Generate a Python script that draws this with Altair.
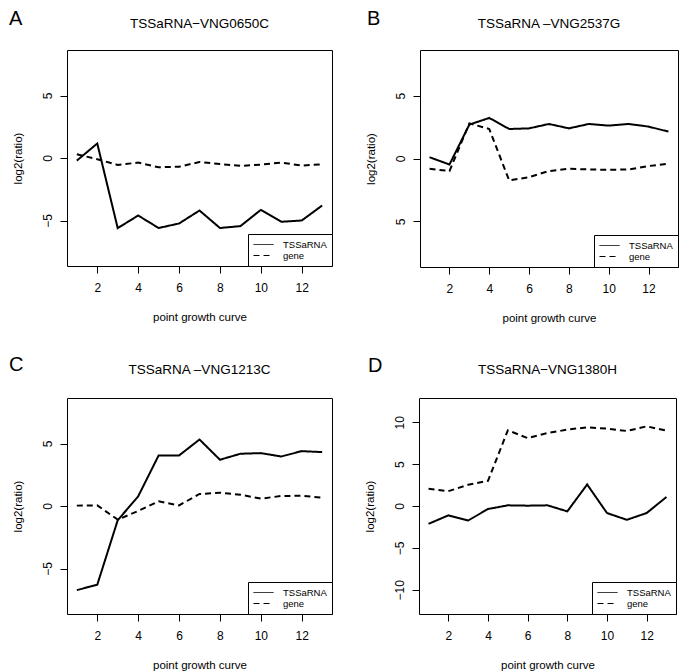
import altair as alt
import pandas as pd

FONT = "Liberation Sans"

points = [1, 2, 3, 4, 5, 6, 7, 8, 9, 10, 11, 12, 13]
series_names = ["TSSaRNA", "gene"]
x_ticks = [2, 4, 6, 8, 10, 12]

a_tss = [-0.21, 1.16, -5.61, -4.6, -5.6, -5.24, -4.2, -5.6, -5.45, -4.15, -5.1, -5.0, -3.8]
a_gene = [0.3, -0.1, -0.55, -0.37, -0.74, -0.7, -0.32, -0.48, -0.63, -0.53, -0.37, -0.6, -0.5]
b_tss = [0.1, -0.48, 2.7, 3.23, 2.35, 2.4, 2.75, 2.4, 2.75, 2.62, 2.75, 2.54, 2.14]
b_gene = [-0.82, -1.0, 2.8, 2.35, -1.75, -1.48, -1.0, -0.82, -0.87, -0.9, -0.87, -0.6, -0.42]
c_tss = [-6.73, -6.3, -1.14, 0.77, 4.04, 4.04, 5.32, 3.7, 4.18, 4.23, 3.96, 4.39, 4.31]
c_gene = [0.03, 0.05, -1.09, -0.4, 0.37, 0.05, 0.96, 1.06, 0.9, 0.59, 0.8, 0.82, 0.66]
d_tss = [-2.13, -1.12, -1.73, -0.36, 0.08, 0.04, 0.08, -0.64, 2.57, -0.84, -1.65, -0.84, 1.08]
d_gene = [2.05, 1.77, 2.53, 3.01, 9.04, 8.11, 8.71, 9.12, 9.4, 9.24, 8.96, 9.52, 9.0]

y_ticks_small = [-5, 0, 5]
y_ticks_large = [-10, -5, 0, 5, 10]


def panel(letter, title, tss, gene, ydom, yticks, w, h, title_offset,
          letter_dx, letter_dy, plain_negative=False):
    df = pd.DataFrame({
        "point": points + points,
        "value": tss + gene,
        "series": [series_names[0]] * len(points) + [series_names[1]] * len(points),
    })
    yaxis = dict(
        values=yticks, title="log2(ratio)", labelAngle=270, labelAlign="center",
        labelBaseline="bottom", labelPadding=6, titleX=-49, titleY=h / 2,
        titleAngle=270, titleAlign="center", titleBaseline="middle",
    )
    if plain_negative:
        yaxis["labelExpr"] = "format(abs(datum.value), 'd')"
    lines = alt.Chart(df).mark_line(color="black", strokeWidth=2).encode(
        x=alt.X("point:Q",
                scale=alt.Scale(domain=[0.52, 13.48], nice=False, zero=False),
                axis=alt.Axis(values=x_ticks, title="point growth curve",
                              labelPadding=9, titleX=w / 2, titleY=54,
                              titleBaseline="alphabetic", titleAlign="center")),
        y=alt.Y("value:Q",
                scale=alt.Scale(domain=ydom, nice=False, zero=False),
                axis=alt.Axis(**yaxis)),
        strokeDash=alt.StrokeDash(
            "series:N",
            scale=alt.Scale(domain=series_names, range=[[1, 0], [6, 4]]),
            legend=alt.Legend(
                title=None, orient="bottom-right", offset=0, padding=5,
                strokeColor="black", fillColor="white", cornerRadius=0,
                symbolType="stroke", symbolSize=400, symbolStrokeWidth=1,
                symbolStrokeColor="black", labelFontSize=9.5, labelOffset=9,
                labelColor="black", labelFont=FONT, clipHeight=11, rowPadding=0,
            ),
        ),
    )
    letter_df = pd.DataFrame({"label": [letter]})
    tag = alt.Chart(letter_df).mark_text(
        align="left", baseline="top", fontSize=20, font=FONT, color="black"
    ).encode(text="label:N", x=alt.value(letter_dx), y=alt.value(letter_dy))
    title_df = pd.DataFrame({"label": [title]})
    head = alt.Chart(title_df).mark_text(
        align="center", baseline="alphabetic", fontSize=13.5, font=FONT, color="black"
    ).encode(text="label:N", x=alt.value(w / 2), y=alt.value(-title_offset))
    return alt.layer(lines, tag, head).properties(width=w, height=h)


pa = panel("A", "TSSaRNA\u2212VNG0650C", a_tss, a_gene, [-8.64, 8.64], y_ticks_small,
           265, 216, 22, -58, -41)
pb = panel("B", "TSSaRNA \u2013VNG2537G", b_tss, b_gene, [-8.64, 8.64], y_ticks_small,
           258, 217, 22, -53, -41, plain_negative=True)
pc = panel("C", "TSSaRNA \u2013VNG1213C", c_tss, c_gene, [-8.64, 8.64], y_ticks_small,
           265, 216, 24, -58, -43)
pd_ = panel("D", "TSSaRNA\u2212VNG1380H", d_tss, d_gene, [-12.9, 12.9], y_ticks_large,
            257, 216, 24, -51, -42)

row1 = alt.hconcat(pa, pb, spacing=88, bounds="flush").resolve_scale(
    x="independent", y="independent", strokeDash="independent"
).resolve_legend(strokeDash="independent")
row2 = alt.hconcat(pc, pd_, spacing=87, bounds="flush").resolve_scale(
    x="independent", y="independent", strokeDash="independent"
).resolve_legend(strokeDash="independent")

chart = alt.vconcat(row1, row2, spacing=348, bounds="flush").resolve_scale(
    x="independent", y="independent", strokeDash="independent"
).resolve_legend(strokeDash="independent").properties(
    padding=0, background="white"
).configure(font=FONT).configure_view(
    stroke="black", strokeWidth=1
).configure_axis(
    grid=False, domain=False, ticks=True, tickSize=7, tickColor="black", tickWidth=1,
    labelColor="black", labelFont=FONT, labelFontSize=12,
    titleColor="black", titleFont=FONT, titleFontSize=11.5, titleFontWeight="normal",
)

chart.save("out.html", embed_options={"renderer": "svg", "actions": False})
